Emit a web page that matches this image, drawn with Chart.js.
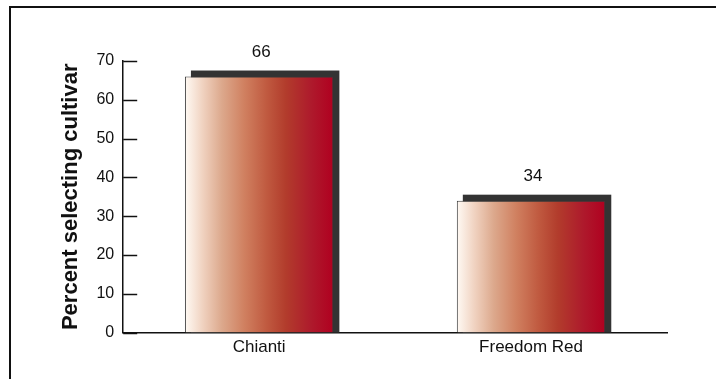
<!DOCTYPE html>
<html>
<head>
<meta charset="utf-8">
<script src="https://cdn.jsdelivr.net/npm/chart.js@4/dist/chart.umd.min.js"></script>
<style>
  body { margin: 0; background: #fff; }
  #wrap { position: relative; width: 716px; height: 379px; overflow: hidden; }
  #frame { position: absolute; left: 9px; top: 6px; width: 800px; height: 500px; border: 2px solid #111; }
  #graficaCultivar { position: absolute; left: 0; top: 0; }
</style>
</head>
<body>
<div id="wrap">
  <div id="frame"></div>
  <canvas id="graficaCultivar" width="716" height="379"></canvas>
</div>
<script>
// datos
const cultivares = ['Chianti', 'Freedom Red'];
const porcentajes = [66, 34];
const ticksY = [0, 10, 20, 30, 40, 50, 60, 70];

const ANCHO_BARRA = 0.546;
const fuente = '"Liberation Sans", Arial, sans-serif';

// degradado horizontal de blanco a rojo vino, uno por barra
function degradado(ctx) {
    const chart = ctx.chart;
    const xs = chart.scales.x;
    if (!xs || !chart.chartArea) return '#b84a34';
    const cx = xs.getPixelForValue(ctx.dataIndex);
    const w = (xs.width / cultivares.length) * ANCHO_BARRA;
    const g = chart.ctx.createLinearGradient(cx - w / 2, 0, cx + w / 2, 0);
    g.addColorStop(0, '#fffaf4');
    g.addColorStop(0.12, '#f0d2c0');
    g.addColorStop(0.25, '#dca88c');
    g.addColorStop(0.4, '#d08060');
    g.addColorStop(0.55, '#c05a40');
    g.addColorStop(0.68, '#b23c2c');
    g.addColorStop(0.85, '#ae1a2c');
    g.addColorStop(1, '#b00020');
    return g;
}

// sombra oscura detras de cada barra + numero arriba
const sombraYValores = {
    id: 'sombraYValores',
    beforeDatasetsDraw(chart) {
        const ctx = chart.ctx;
        const meta = chart.getDatasetMeta(0);
        ctx.save();
        ctx.fillStyle = '#333333';
        meta.data.forEach(el => {
            const w = el.width;
            ctx.fillRect(el.x - w / 2 + 6, el.y - 6, w, el.base - el.y + 6);
        });
        ctx.restore();
    },
    afterDatasetsDraw(chart) {
        const ctx = chart.ctx;
        const meta = chart.getDatasetMeta(0);
        ctx.save();
        ctx.fillStyle = '#111';
        ctx.font = '17px ' + fuente;
        ctx.textAlign = 'center';
        ctx.textBaseline = 'middle';
        meta.data.forEach((el, i) => {
            ctx.fillText(String(porcentajes[i]), el.x + 2, el.y - 24);
        });
        ctx.restore();
    },
    afterDraw(chart) {
        // marcas del eje Y hacia adentro
        const ctx = chart.ctx;
        const ys = chart.scales.y;
        ctx.save();
        ctx.strokeStyle = '#111';
        ctx.lineWidth = 1.5;
        ys.ticks.forEach(t => {
            const y = Math.round(ys.getPixelForValue(t.value)) + 0.5;
            ctx.beginPath();
            ctx.moveTo(ys.right, y);
            ctx.lineTo(ys.right + 14, y);
            ctx.stroke();
        });
        ctx.restore();
    }
};

document.addEventListener('DOMContentLoaded', function () {
    new Chart(document.getElementById('graficaCultivar'), {
        type: 'bar',
        data: {
            labels: cultivares,
            datasets: [{
                data: porcentajes,
                backgroundColor: degradado,
                borderColor: '#3a3a3a',
                borderWidth: 1,
                borderSkipped: 'bottom',
                categoryPercentage: 1,
                barPercentage: ANCHO_BARRA
            }]
        },
        options: {
            responsive: false,
            animation: false,
            layout: { padding: { left: 58, right: 49, top: 61, bottom: 16 } },
            plugins: {
                legend: { display: false },
                tooltip: { enabled: false }
            },
            scales: {
                x: {
                    grid: { display: false, drawTicks: false },
                    border: { display: true, color: '#111', width: 1.5 },
                    ticks: {
                        color: '#111',
                        padding: 5,
                        font: { family: fuente, size: 17 }
                    }
                },
                y: {
                    min: 0,
                    max: 70,
                    afterBuildTicks(scale) {
                        scale.ticks = ticksY.map(v => ({ value: v }));
                    },
                    grid: { display: false, drawTicks: false },
                    border: { display: true, color: '#111', width: 1.5 },
                    ticks: {
                        color: '#111',
                        padding: 9,
                        font: { family: fuente, size: 16 }
                    },
                    title: {
                        display: true,
                        text: 'Percent selecting cultivar',
                        color: '#111',
                        padding: { top: 0, bottom: 3 },
                        font: { family: fuente, size: 22, weight: 'bold' }
                    }
                }
            }
        },
        plugins: [sombraYValores]
    });
});
</script>
</body>
</html>
